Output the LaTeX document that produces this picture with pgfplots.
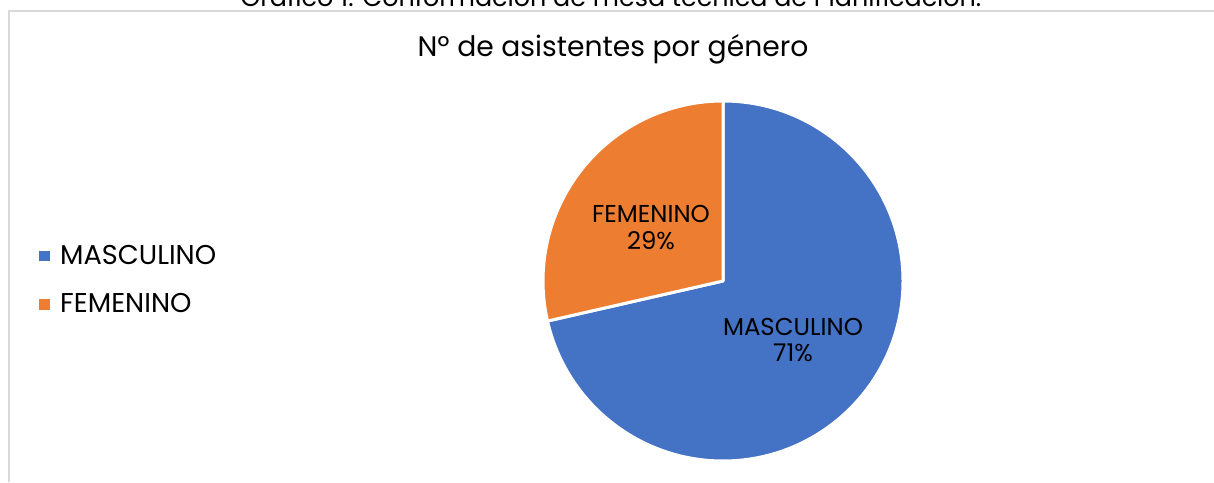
\documentclass[border=0pt]{standalone}
\usepackage{fontspec}
\setmainfont{Poppins}
\usepackage{pgfplots}
\usepackage{pgfplotstable}
\pgfplotsset{compat=1.18}
\definecolor{mblue}{HTML}{4472C4}
\definecolor{forange}{HTML}{ED7D31}
\definecolor{framegray}{HTML}{D9D9D9}

% asistentes por genero
\pgfplotstableread{
label value
MASCULINO 10
FEMENINO 4
}\generotable

\begin{document}
\begin{tikzpicture}
\pgfplotstablegetelem{0}{value}\of\generotable \let\vmasc\pgfplotsretval
\pgfplotstablegetelem{1}{value}\of\generotable \let\vfem\pgfplotsretval
\pgfmathsetmacro\tot{\vmasc+\vfem}
\pgfmathsetmacro\amasc{360*\vmasc/\tot}
\pgfmathtruncatemacro\pmasc{round(100*\vmasc/\tot)}
\pgfmathtruncatemacro\pfem{round(100*\vfem/\tot)}
\begin{axis}[
    x=0.5pt, y=0.5pt,
    xmin=0, xmax=1214, ymin=0, ymax=482,
    anchor=south west, at={(0,0)},
    hide axis, clip=false,
    legend image code/.code={\fill[#1] (0pt,-2.7pt) rectangle (5.4pt,2.7pt);},
    legend style={at={(axis cs:39,202)}, anchor=west, draw=none, fill=none,
        font=\fontsize{13.6}{15}\selectfont, row sep=9pt, column sep=3pt,
        cells={anchor=west}, inner sep=0pt},
]
\addlegendimage{fill=mblue, draw=none}
\addlegendentry{MASCULINO}
\addlegendimage{fill=forange, draw=none}
\addlegendentry{FEMENINO}

% frame
\draw[framegray, line width=0.8pt] (axis cs:9,0) -- (axis cs:9,471) -- (axis cs:1214,471);

% wedges
\filldraw[fill=mblue, draw=white, line width=1.5pt, line join=round]
    (axis cs:723,201) -- ++(90:90pt) arc[start angle=90, end angle={90-\amasc}, radius=90pt] -- cycle;
\filldraw[fill=forange, draw=white, line width=1.5pt, line join=round]
    (axis cs:723,201) -- ++({90-\amasc}:90pt) arc[start angle={90-\amasc}, end angle=-270, radius=90pt] -- cycle;

% data labels
\node[anchor=base, font=\fontsize{12.2}{14}\selectfont, inner sep=0pt] at (axis cs:651,259) {FEMENINO};
\node[anchor=base, font=\fontsize{12.2}{14}\selectfont, inner sep=0pt] at (axis cs:651,232) {\pfem\%};
\node[anchor=base, font=\fontsize{12.2}{14}\selectfont, inner sep=0pt] at (axis cs:793,147) {MASCULINO};
\node[anchor=base, font=\fontsize{12.2}{14}\selectfont, inner sep=0pt] at (axis cs:793,120) {\pmasc\%};

% titles
\node[anchor=base, font=\fontsize{14.1}{16}\selectfont, inner sep=0pt] at (axis cs:613,425) {Nº de asistentes por género};
\node[anchor=base, font=\fontsize{12.7}{15}\selectfont, inner sep=0pt] at (axis cs:611,475) {Gráfico 1. Conformación de mesa técnica de Planificación.};

\coordinate (bl) at (axis cs:0,0);
\coordinate (tr) at (axis cs:1214,482);
\end{axis}
\pgfresetboundingbox
\useasboundingbox (bl) rectangle (tr);
\end{tikzpicture}
\end{document}
